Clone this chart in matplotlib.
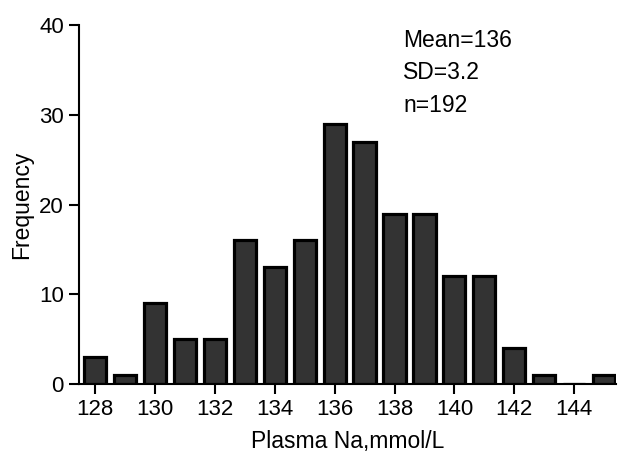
"""Histogram of plasma sodium values, bars per integer mmol/L."""

import matplotlib

matplotlib.use("Agg")
import matplotlib.pyplot as plt

sodium = [128, 129, 130, 131, 132, 133, 134, 135, 136,
          137, 138, 139, 140, 141, 142, 143, 144, 145]
counts = [3, 1, 9, 5, 5, 16, 13, 16, 29,
          27, 19, 19, 12, 12, 4, 1, 0, 1]
x_ticks = [128, 130, 132, 134, 136, 138, 140, 142, 144]
y_ticks = [0, 10, 20, 30, 40]
stats_lines = ["Mean=136", "SD=3.2", "n=192"]

plt.rcParams["font.family"] = ["Liberation Sans", "DejaVu Sans"]

fig = plt.figure(figsize=(6.18, 4.54), dpi=100)
ax = fig.add_axes([0.128, 0.154, 0.869, 0.791])

ax.bar(sodium, counts, width=0.74, color="#333333",
       edgecolor="black", linewidth=2.3, zorder=2)

ax.set_xlim(127.47, 145.4)
ax.set_ylim(0, 40)
ax.set_xticks(x_ticks)
ax.set_yticks(y_ticks)
ax.tick_params(axis="both", labelsize=16, width=1.5, length=7,
               direction="out", colors="black", pad=4)

for side in ("top", "right"):
    ax.spines[side].set_visible(False)
for side in ("left", "bottom"):
    ax.spines[side].set_linewidth(1.5)

ax.set_xlabel("Plasma Na,mmol/L", fontsize=16.5, labelpad=7)
ax.set_ylabel("Frequency", fontsize=16.5, labelpad=4)

ax.text(0.603, 0.99, "\n".join(stats_lines), transform=ax.transAxes,
        fontsize=16.5, va="top", ha="left", linespacing=1.55)

fig.savefig("out.png", dpi=100)
